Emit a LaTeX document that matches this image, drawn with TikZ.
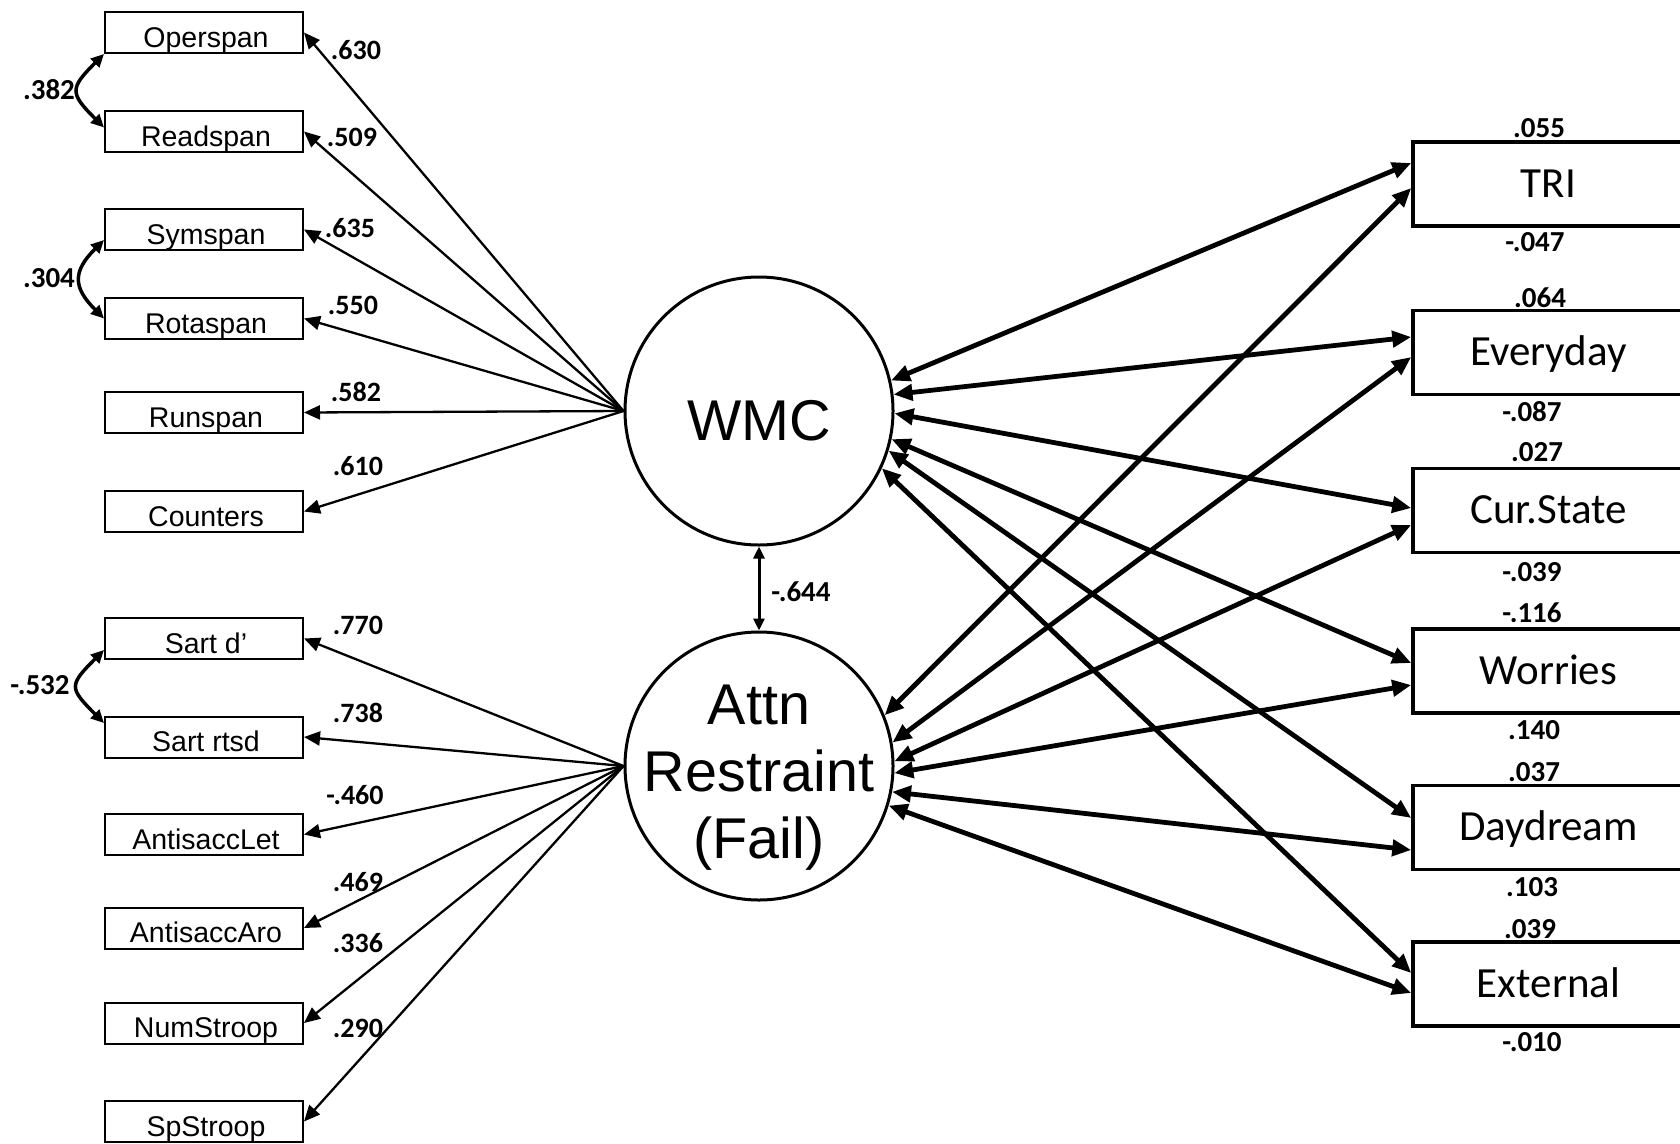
\documentclass[tikz,border=0pt]{standalone}
\usepackage{fontspec}
\setmainfont{Liberation Sans}
\newfontfamily\calibri{Carlito}
\usetikzlibrary{arrows.meta}
\begin{document}
\begin{tikzpicture}[x=1pt,y=-1pt,
  obs/.style={draw, line width=2pt, minimum width=198pt, minimum height=41pt, inner sep=0pt,
    font=\fontsize{28.5}{33}\selectfont, text height=29pt, text depth=0pt,
    execute at begin node={\hspace*{4pt}}},
  ind/.style={draw, line width=3.5pt, minimum width=271pt, minimum height=84pt, inner sep=0pt,
    font=\calibri\fontsize{43}{50}\selectfont, text height=26pt, text depth=0pt},
  latent/.style={draw, circle, line width=3pt, minimum size=268pt, inner sep=0pt},
  ltext/.style={font=\fontsize{57.5}{67}\selectfont, align=center, anchor=north, inner sep=0pt},
  load/.style={-{Triangle[length=16pt,width=14pt]}, line width=2.3pt},
  cov/.style={{Triangle[length=13pt,width=12pt]}-{Triangle[length=13pt,width=12pt]}, line width=3.5pt},
  corr/.style={{Triangle[length=12pt,width=11pt]}-{Triangle[length=12pt,width=11pt]}, line width=3pt},
  pth/.style={{Triangle[length=19pt,width=16pt]}-{Triangle[length=19pt,width=16pt]}, line width=4.8pt},
  lab/.style={font=\calibri\bfseries\fontsize{28}{32}\selectfont, inner sep=0pt},
  rlab/.style={font=\calibri\bfseries\fontsize{29}{33}\selectfont, inner sep=0pt}
]
\path[fill=white] (0,0) rectangle (1680,1143);
\useasboundingbox (0,0) rectangle (1680,1143);

% latent variables
\node[latent] (wmc) at (759,411) {};
\node[latent] (attn) at (759,766) {};
\node[ltext] (wmctext) at (759,400) {WMC};
\node[ltext] (attntext) at (759,685) {Attn\\Restraint\\(Fail)};

% left observed boxes
\node[obs] (op) at (204,32.5) {Operspan};
\node[obs] (rd) at (204,131.5) {Readspan};
\node[obs] (sy) at (204,229.5) {Symspan};
\node[obs] (ro) at (204,318.5) {Rotaspan};
\node[obs] (ru) at (204,412.5) {Runspan};
\node[obs] (co) at (204,511.5) {Counters};
\node[obs] (sd) at (204,638.5) {Sart d’};
\node[obs] (sr) at (204,737) {Sart rtsd};
\node[obs] (al) at (204,834.5) {AntisaccLet};
\node[obs] (aa) at (204,928) {AntisaccAro};
\node[obs] (ns) at (204,1023) {NumStroop};
\node[obs] (ss) at (204,1121.5) {SpStroop};

% right boxes
\node[ind] (tri) at (1548.5,184) {TRI};
\node[ind] (ev) at (1548.5,352.5) {Everyday};
\node[ind] (cs) at (1548.5,510.5) {Cur.State};
\node[ind] (wo) at (1548.5,671) {Worries};
\node[ind] (dd) at (1548.5,827.5) {Daydream};
\node[ind] (ex) at (1548.5,984) {External};

% loadings
\foreach \b in {op,rd,sy,ro,ru,co} \draw[load] (wmc.west) -- (\b.east);
\foreach \b in {sd,sr,al,aa,ns,ss} \draw[load] (attn.west) -- (\b.east);

\node[lab] (l1) at (356,50) {.630};
\node[lab] (l2) at (352,137) {.509};
\node[lab] (l3) at (350,228) {.635};
\node[lab] (l4) at (353,305) {.550};
\node[lab] (l5) at (356,392) {.582};
\node[lab] (l6) at (358,466) {.610};
\node[lab] (l7) at (358,625) {.770};
\node[lab] (l8) at (358,713) {.738};
\node[lab] (l9) at (355,795) {-.460};
\node[lab] (l10) at (358,882) {.469};
\node[lab] (l11) at (358,943) {.336};
\node[lab] (l12) at (358,1028) {.290};

% residual covariances
\draw[cov] (op.south west) to[out=225,in=135,looseness=1.7] ([yshift=4pt]rd.west);
\draw[cov] ([yshift=-10.5pt]sy.west) to[out=225,in=135,looseness=1.45] (ro.west);
\draw[cov] ([yshift=-11.5pt]sd.west) to[out=225,in=135,looseness=1.75] ([yshift=14pt]sr.west);
\node[rlab] (c1) at (49,90) {.382};
\node[rlab] (c2) at (49,278) {.304};
\node[rlab] (c3) at (40,685) {-.532};

% factor correlation
\draw[corr] (wmc.south) -- (attn.north);
\node[rlab] (c4) at (801,592) {-.644};

% structural paths from WMC
\draw[pth] (wmc.13) -- ([yshift=21pt]tri.west);
\draw[pth] (wmc.7) -- ([yshift=15.5pt]ev.west);
\draw[pth] (wmc.-1) -- ([yshift=2.5pt]cs.west);
\draw[pth] (wmc.-12) -- ([yshift=8pt]wo.west);
\draw[pth] (wmc.-17) -- ([yshift=9.5pt]dd.west);
\draw[pth] (wmc.-25) -- ([yshift=11pt]ex.west);
% structural paths from Attn
\draw[pth] (attn.22) -- ([yshift=-4pt]tri.west);
\draw[pth] (attn.10) -- ([yshift=-4.5pt]ev.west);
\draw[pth] (attn.2) -- ([yshift=-14.5pt]cs.west);
\draw[pth] (attn.-3) -- ([yshift=-14pt]wo.west);
\draw[pth] (attn.-11) -- ([yshift=-22.5pt]dd.west);
\draw[pth] (attn.-17) -- ([yshift=-9pt]ex.west);

% right labels
\node[rlab] (t1) at (1539,128) {.055};
\node[rlab] (b1) at (1535,242) {-.047};
\node[rlab] (t2) at (1540,298) {.064};
\node[rlab] (b2) at (1532,412) {-.087};
\node[rlab] (t3) at (1537,452) {.027};
\node[rlab] (b3) at (1532,572) {-.039};
\node[rlab] (t4) at (1532,613) {-.116};
\node[rlab] (b4) at (1534,730) {.140};
\node[rlab] (t5) at (1534,772) {.037};
\node[rlab] (b5) at (1532,887) {.103};
\node[rlab] (t6) at (1530,929) {.039};
\node[rlab] (b6) at (1532,1042) {-.010};
\end{tikzpicture}
\end{document}
